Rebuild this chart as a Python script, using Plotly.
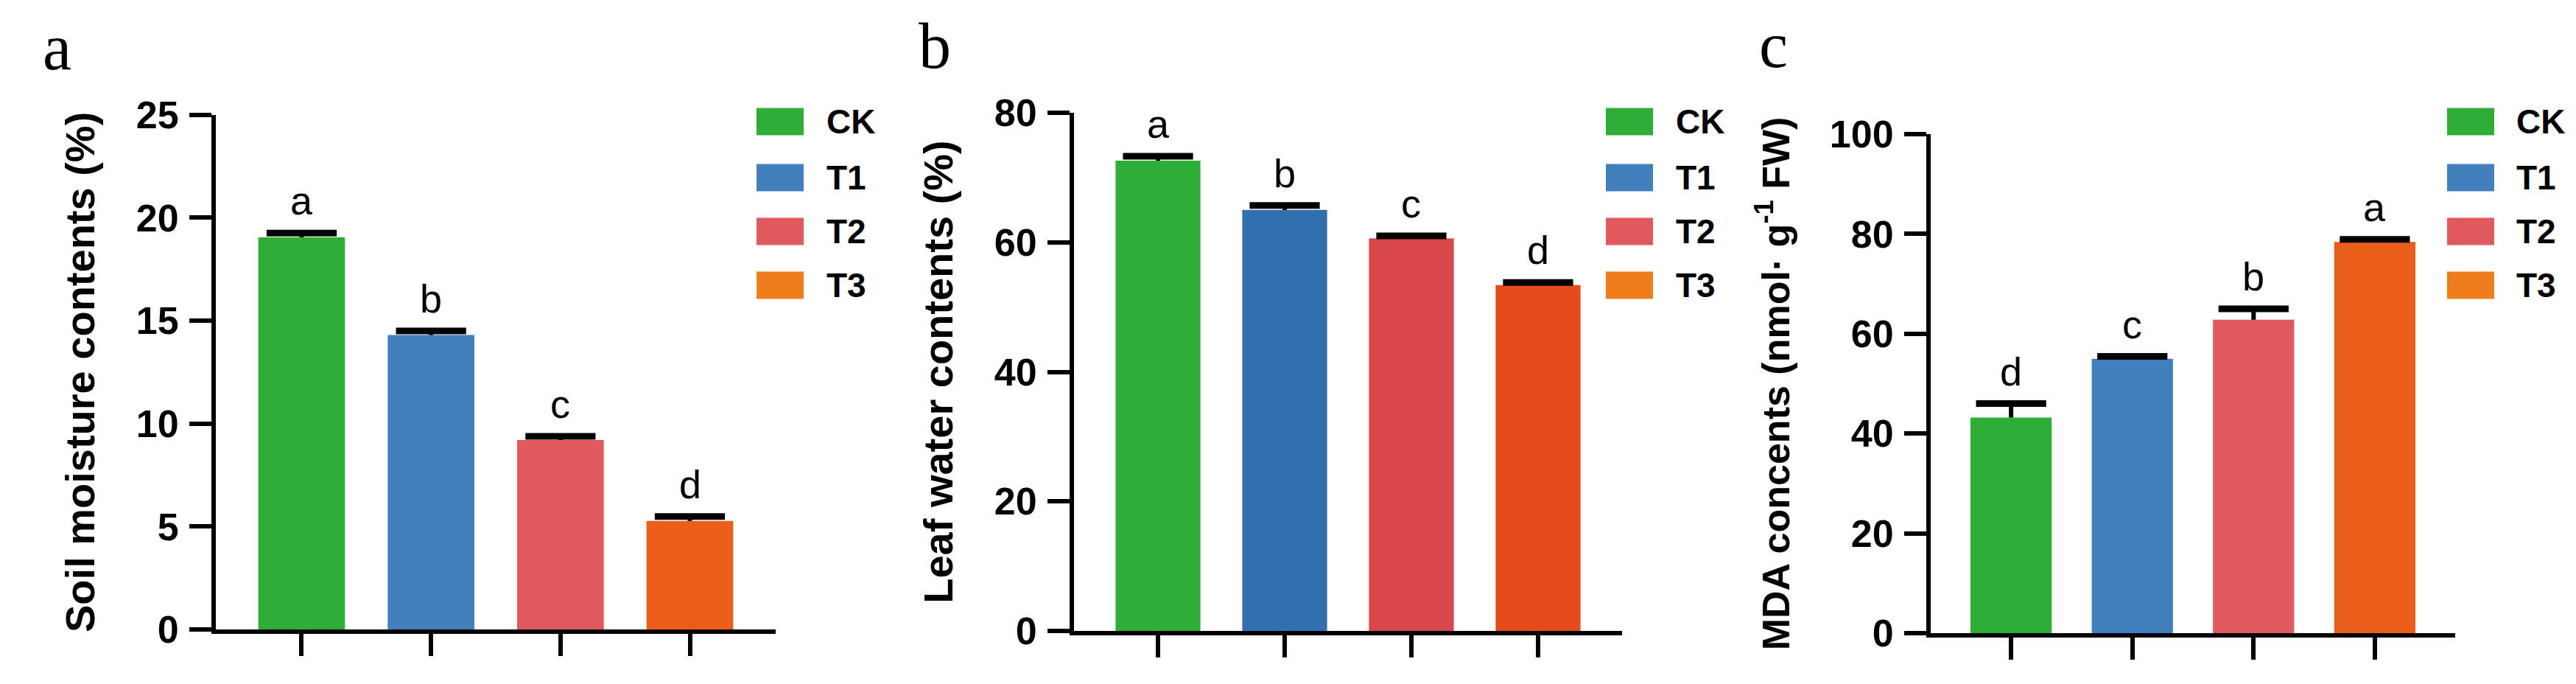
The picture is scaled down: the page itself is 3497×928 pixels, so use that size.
import plotly.graph_objects as go

groups = ["CK", "T1", "T2", "T3"]

# panel a - soil moisture
soil_mean = [19.05, 14.3, 9.2, 5.27]
soil_err = [0.2, 0.2, 0.18, 0.22]
soil_sig = ["a", "b", "c", "d"]

# panel b - leaf water
leaf_mean = [72.6, 65.0, 60.6, 53.4]
leaf_err = [0.7, 0.7, 0.4, 0.4]
leaf_sig = ["a", "b", "c", "d"]

# panel c - MDA
mda_mean = [43.2, 55.0, 62.8, 78.4]
mda_err = [2.8, 0.45, 2.2, 0.5]
mda_sig = ["d", "c", "b", "a"]

colors_ac = ["#2EAD37", "#4380BB", "#E0595C", "#EA5E1A"]
colors_b = ["#2EAD37", "#336FAF", "#D9464A", "#E64B1B"]
legend_colors = ["#2EAD37", "#4380BB", "#E0595C", "#EF7D1C"]

W, H = 3497, 928
SANS = "Arial, Liberation Sans, sans-serif"
SERIF = "Times New Roman, Liberation Serif, serif"

panels = [
    dict(mean=soil_mean, err=soil_err, sig=soil_sig, colors=colors_ac,
         title="Soil moisture contents (%)", title_size=56, ymax=25, dtick=5,
         xdom=(285, 1045), ydom=(846, 147.7), label="a", label_xy=(69, 6),
         leg_x=1019, text_x=1112),
    dict(mean=leaf_mean, err=leaf_err, sig=leaf_sig, colors=colors_b,
         title="Leaf water contents (%)", title_size=56, ymax=80, dtick=20,
         xdom=(1450, 2194), ydom=(848, 145), label="b", label_xy=(1261, 4),
         leg_x=2172, text_x=2265),
    dict(mean=mda_mean, err=mda_err, sig=mda_sig, colors=colors_ac,
         title="MDA concents (nmol· g<sup>-1</sup> FW)", title_size=52, ymax=100, dtick=20,
         xdom=(2613, 3325), ydom=(851, 174), label="c", label_xy=(2399, 3),
         leg_x=3314, text_x=3406),
]
legend_y = [157, 233, 306, 379]

fig = go.Figure()
annotations = []
shapes = []

for i, p in enumerate(panels):
    sfx = "" if i == 0 else str(i + 1)
    xa, ya = "x" + sfx, "y" + sfx
    top = [m + e for m, e in zip(p["mean"], p["err"])]

    fig.add_trace(go.Bar(
        x=groups, y=p["mean"], width=0.67,
        marker=dict(color=p["colors"], line=dict(width=0)),
        xaxis=xa, yaxis=ya, showlegend=False,
    ))
    # error bars: cap at mean+err, stem down to the bar top
    fig.add_trace(go.Scatter(
        x=groups, y=top, mode="markers",
        marker=dict(symbol="line-ew", size=68, color="black",
                    line=dict(width=9, color="black")),
        error_y=dict(type="data", symmetric=False, array=[0] * 4,
                     arrayminus=p["err"], width=0, thickness=6, color="black"),
        xaxis=xa, yaxis=ya, showlegend=False,
    ))
    for g, t, s in zip(groups, top, p["sig"]):
        annotations.append(dict(
            x=g, y=t, xref=xa, yref=ya, text=s, showarrow=False,
            yanchor="bottom", yshift=12,
            font=dict(family=SANS, size=54, color="black"),
        ))

    axis_common = dict(
        showline=True, linewidth=6, linecolor="black",
        ticks="outside", ticklen=30, tickwidth=6, tickcolor="black",
        showgrid=False, zeroline=False, automargin=False,
    )
    fig.update_layout({
        "xaxis" + sfx: dict(
            domain=[p["xdom"][0] / W, p["xdom"][1] / W],
            anchor=ya, range=[-0.663, 3.663], showticklabels=False,
            **axis_common,
        ),
        "yaxis" + sfx: dict(
            domain=[1 - p["ydom"][0] / H, 1 - p["ydom"][1] / H],
            anchor=xa, range=[0, p["ymax"]],
            tickvals=list(range(0, p["ymax"] + 1, p["dtick"])),
            tickfont=dict(family=SANS, size=52, color="black", weight="bold"),
            ticklabelstandoff=4,
            title=dict(text=p["title"], standoff=40,
                       font=dict(family=SANS, size=p["title_size"], color="black",
                                 weight="bold")),
            **axis_common,
        ),
    })

    # panel label
    annotations.append(dict(
        x=p["label_xy"][0] / W, y=1 - p["label_xy"][1] / H, xref="paper", yref="paper",
        text=p["label"], showarrow=False, xanchor="center", yanchor="top",
        font=dict(family=SERIF, size=88, color="black"),
    ))

    # legend swatches and labels
    for g, c, cy in zip(groups, legend_colors, legend_y):
        shapes.append(dict(
            type="rect", xref="paper", yref="paper",
            x0=p["leg_x"] / W, x1=(p["leg_x"] + 64) / W,
            y0=1 - (cy + 18.5) / H, y1=1 - (cy - 18.5) / H,
            fillcolor=c, line=dict(width=0),
        ))
        annotations.append(dict(
            x=p["text_x"] / W, y=1 - cy / H, xref="paper", yref="paper",
            text=g, showarrow=False, xanchor="left", yanchor="middle",
            font=dict(family=SANS, size=46, color="black", weight="bold"),
        ))

fig.update_layout(
    width=W, height=H,
    margin=dict(l=0, r=0, t=0, b=0),
    plot_bgcolor="white", paper_bgcolor="white",
    annotations=annotations, shapes=shapes,
    bargap=0.33,
)

fig.write_html("out.html")
